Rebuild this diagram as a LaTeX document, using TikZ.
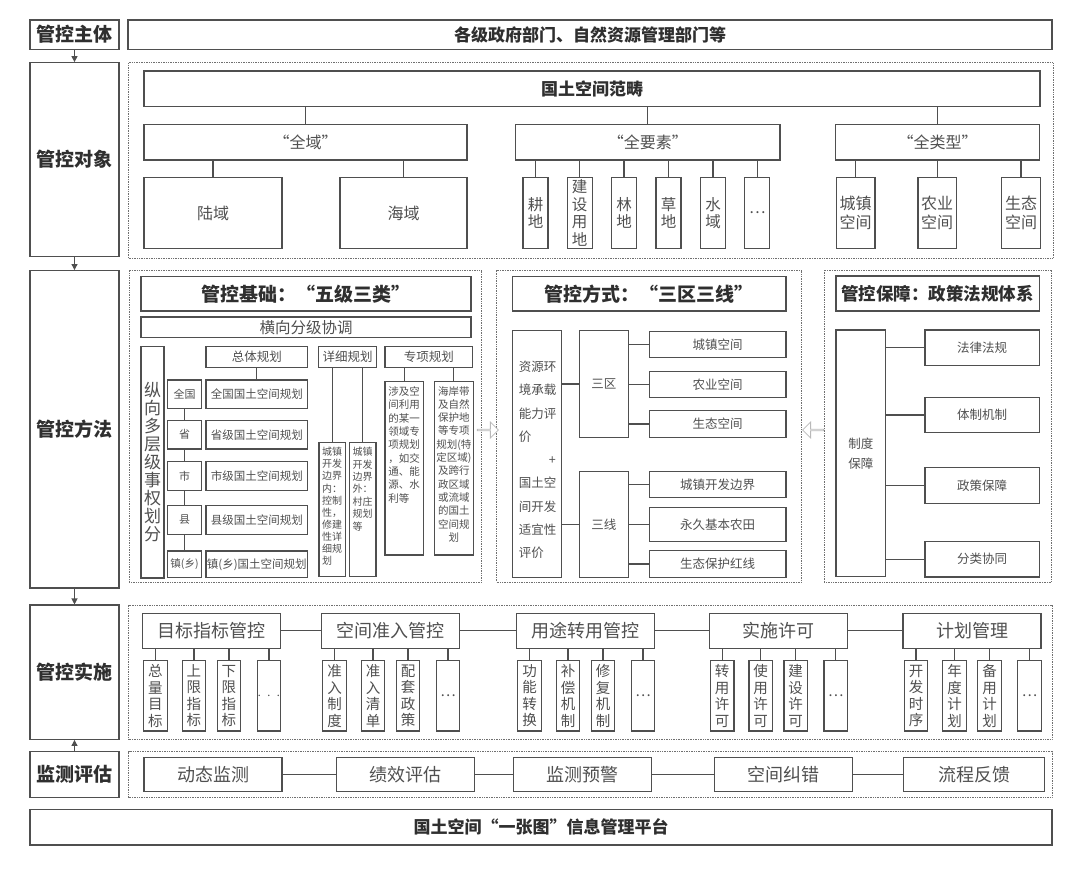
\documentclass[tikz,border=0pt]{standalone}
\usepackage{fontspec}
\setmainfont{Noto Sans CJK SC}
\usetikzlibrary{arrows.meta, shapes.arrows}

\definecolor{linec}{HTML}{4F4F4F}
\definecolor{headc}{HTML}{2F2F2F}
\definecolor{txtc}{HTML}{505050}
\definecolor{dotc}{HTML}{707070}
\newcommand{\fsz}[2]{\fontsize{#1}{#2}\selectfont}

\begin{document}
\begin{tikzpicture}[x=1pt, y=-1pt, >={Triangle[length=6pt, width=6pt]},
    box/.style={draw=linec, line width=1.2pt, fill=white, inner sep=0pt, text=txtc, align=center},
    sidebox/.style={box, minimum width=89, font=\fsz{19}{21}\bfseries, text=headc},
    titlebox/.style={box, font=\fsz{19}{21}\bfseries, text=headc},
    area/.style={draw=dotc, line width=0.9pt, dash pattern=on 0.9pt off 0.8pt, inner sep=0pt},
    link/.style={draw=linec, line width=1.2pt},
    elem/.style={box, minimum width=25, minimum height=70.6, font=\fsz{15.5}{17.5}},
    spc/.style={box, minimum width=38.5, minimum height=70.6, font=\fsz{16}{19}},
    level/.style={box, minimum width=34.4, minimum height=28.3, font=\fsz{11}{13}},
    plan/.style={box, minimum width=101.7, minimum height=28.3, font=\fsz{11.5}{13}},
    plantype/.style={box, minimum height=21, font=\fsz{12.5}{14}},
    smalltxt/.style={inner sep=0pt, text=txtc, anchor=north},
    item/.style={box, minimum width=136.7, font=\fsz{12.5}{14}},
    law/.style={box, minimum width=114.3, minimum height=35.5, font=\fsz{12.5}{14}},
    task/.style={box, minimum width=138, minimum height=35, font=\fsz{18}{20}},
    sub/.style={box, minimum width=23.5, minimum height=70.3, font=\fsz{14.5}{16.5}},
    stage/.style={box, minimum width=138, minimum height=34.3, font=\fsz{18}{20}},
    hollow/.style={single arrow, draw=gray!55, fill=white, line width=0.8pt, minimum height=21,
        minimum width=16, single arrow head extend=4pt, inner sep=0pt}
]
    \useasboundingbox (0,0) rectangle (1080,874);

    % ==========================================
    % 1. LEFT COLUMN
    % ==========================================
    \node[sidebox, minimum height=29.3] (zhuti) at (74.5,34.7) {管控主体};
    \node[box, minimum width=924, minimum height=29.3, font=\fsz{17}{19}\bfseries, text=headc]
        (zhutiR) at (590,34.7) {各级政府部门、自然资源管理部门等};
    \node[sidebox, minimum height=194] (duixiang) at (74.5,159.7) {管控对象};
    \node[sidebox, minimum height=317.3] (fangfa) at (74.5,429.3) {管控方法};
    \node[sidebox, minimum height=134.3] (shishi) at (74.5,672.2) {管控实施};
    \node[sidebox, minimum height=45.6] (jiance) at (74.5,774.5) {监测评估};
    \node[box, minimum width=1022, minimum height=35.7, font=\fsz{17}{19}\bfseries, text=headc]
        (pingtai) at (541,827.2) {国土空间“一张图”信息管理平台};

    \draw[link, ->] (zhuti) -- (duixiang);
    \draw[link, ->] (duixiang) -- (fangfa);
    \draw[link, ->] (fangfa) -- (shishi);
    \draw[link, ->] (jiance) -- (shishi);

    % ==========================================
    % 2. OBJECTS: territorial space
    % ==========================================
    \node[area, minimum width=924.4, minimum height=195.6] (area1) at (590.8,160.5) {};

    \node[box, minimum width=896, minimum height=35.7, font=\fsz{17}{19}\bfseries, text=headc]
        (fanchou) at (592,88.8) {国土空间范畴};
    \node[box, minimum width=323, minimum height=35.7, font=\fsz{16}{18}] (quanyu) at (305.5,142.2) {“全域”};
    \node[box, minimum width=264.5, minimum height=35.7, font=\fsz{16}{18}] (quanyaosu) at (647.8,142.2) {“全要素”};
    \node[box, minimum width=204, minimum height=35.7, font=\fsz{16}{18}] (quanleixing) at (937.5,142.2) {“全类型”};

    \node[box, minimum width=138, minimum height=70.6, font=\fsz{16}{18}] (luyu) at (213,213) {陆域};
    \node[box, minimum width=127, minimum height=70.6, font=\fsz{16}{18}] (haiyu) at (403.5,213) {海域};

    \node[elem] (gd) at (535.5,213) {耕\\地};
    \node[elem] (js) at (579.7,213) {建\\设\\用\\地};
    \node[elem] (ld) at (624,213) {林\\地};
    \node[elem] (cd) at (668.5,213) {草\\地};
    \node[elem] (sy) at (713,213) {水\\域};
    \node[elem] (el) at (757.3,213) {…};

    \node[spc] (spc1) at (855.7,213) {城镇\\空间};
    \node[spc] (spc2) at (937.2,213) {农业\\空间};
    \node[spc] (spc3) at (1021,213) {生态\\空间};

    \draw[link] (fanchou.south -| quanyu) -- (quanyu.north);
    \draw[link] (fanchou.south -| quanyaosu) -- (quanyaosu.north);
    \draw[link] (fanchou.south -| quanleixing) -- (quanleixing.north);
    \draw[link] (quanyu.south -| luyu) -- (luyu.north);
    \draw[link] (quanyu.south -| haiyu) -- (haiyu.north);
    \foreach \c in {gd, js, ld, cd, sy, el}
        \draw[link] (quanyaosu.south -| \c) -- (\c.north);
    \foreach \c in {spc1, spc2, spc3}
        \draw[link] (quanleixing.south -| \c) -- (\c.north);

    % ==========================================
    % 3. METHODS: basis "five levels, three types"
    % ==========================================
    \node[area, minimum width=352.4, minimum height=312] (area2) at (305.5,426) {};

    \node[titlebox, minimum width=330, minimum height=34.3] (jichu) at (306,293.8) {管控基础：“五级三类”};
    \node[box, minimum width=330, minimum height=20.7, font=\fsz{15.5}{17}] (hengxiang) at (306,327.3) {横向分级协调};
    \node[box, minimum width=23, minimum height=231.3, font=\fsz{17}{18}] (zongxiang) at (152.5,462.3)
        {纵\\向\\多\\层\\级\\事\\权\\划\\分};

    \node[plantype, minimum width=101.7] (zongti) at (256.8,357.2) {总体规划};
    \node[level] (lv1) at (184.5,394.2) {全国};
    \node[level] (lv2) at (184.5,434.8) {省};
    \node[level] (lv3) at (184.5,476) {市};
    \node[level] (lv4) at (184.5,520) {县};
    \node[level, minimum height=26.7, font=\fsz{10.5}{12}] (lv5) at (184.5,564.3) {镇(乡)};
    \node[plan] (pl1) at (256.8,394.2) {全国国土空间规划};
    \node[plan] (pl2) at (256.8,434.8) {省级国土空间规划};
    \node[plan] (pl3) at (256.8,476) {市级国土空间规划};
    \node[plan] (pl4) at (256.8,520) {县级国土空间规划};
    \node[plan, minimum height=26.7] (pl5) at (256.8,564.3) {镇(乡)国土空间规划};

    \draw[link] (zongti) -- (pl1);
    \draw[link] (lv1) -- (lv2) (lv2) -- (lv3) (lv3) -- (lv4) (lv4) -- (lv5);

    \node[plantype, minimum width=58.4] (xiangxi) at (347.5,357.2) {详细规划};
    \node[box, minimum width=26.3, minimum height=134] (xx1) at (332.2,509.7) {};
    \node[box, minimum width=26.7, minimum height=134] (xx2) at (362.7,509.7) {};
    \node[smalltxt, align=left, font=\fsz{10}{12.1}] (xx1t) at ([yshift=-5pt]xx1.north)
        {城镇\\开发\\边界\\内：\\控制\\性，\\修建\\性详\\细规\\划};
    \node[smalltxt, align=left, font=\fsz{10}{12.4}] (xx2t) at ([yshift=-5pt]xx2.north)
        {城镇\\开发\\边界\\外：\\村庄\\规划\\等};
    \draw[link] (xiangxi.south -| xx1) -- (xx1.north);
    \draw[link] (xiangxi.south -| xx2) -- (xx2.north);

    \node[plantype, minimum width=87.7] (zhuanxiang) at (428.8,357.2) {专项规划};
    \node[box, minimum width=38.3, minimum height=173.3] (zx1) at (404.2,468.3) {};
    \node[box, minimum width=39, minimum height=173.3] (zx2) at (453.8,468.3) {};
    \node[smalltxt, align=left, font=\fsz{10.5}{13.3}] (zx1t) at ([yshift=-5.5pt]zx1.north)
        {涉及空\\间利用\\的某一\\领域专\\项规划\\，如交\\通、能\\源、水\\利等};
    \node[smalltxt, align=center, font=\fsz{10.5}{13.3}] (zx2t) at ([yshift=-5pt]zx2.north)
        {海岸带\\及自然\\保护地\\等专项\\规划(特\\定区域)\\及跨行\\政区域\\或流域\\的国土\\空间规\\划};
    \draw[link] (zhuanxiang.south -| zx1) -- (zx1.north);
    \draw[link] (zhuanxiang.south -| zx2) -- (zx2.north);

    % ==========================================
    % 4. METHODS: "three zones, three lines"
    % ==========================================
    \node[area, minimum width=305, minimum height=312] (area3) at (649.2,426) {};

    \node[titlebox, minimum width=273.3, minimum height=34.3] (fangshi) at (649.3,293.8) {管控方式：“三区三线”};
    \node[box, minimum width=49, minimum height=246.6] (pingjia) at (537.2,454) {};
    \node[inner sep=0pt, text=txtc, align=left, font=\fsz{12.5}{23.3}] (pjtext) at (537.5,460)
        {资源环\\境承载\\能力评\\价\\\hspace*{30pt}+\\国土空\\间开发\\适宜性\\评价};

    \node[box, minimum width=49, minimum height=106.6, font=\fsz{12.5}{14}] (sanqu) at (603.8,384) {三区};
    \node[box, minimum width=49, minimum height=105.6, font=\fsz{12.5}{14}] (sanxian) at (603.8,524.5) {三线};

    \node[item, minimum height=26] (zone1) at (717.6,344.7) {城镇空间};
    \node[item, minimum height=26.4] (zone2) at (717.6,384.5) {农业空间};
    \node[item, minimum height=26.6] (zone3) at (717.6,424) {生态空间};
    \node[item, minimum height=26] (line1) at (717.6,484.7) {城镇开发边界};
    \node[item, minimum height=34] (line2) at (717.6,524.7) {永久基本农田};
    \node[item, minimum height=26.6] (line3) at (717.6,564) {生态保护红线};

    \draw[link] (sanqu.west -| pingjia.east) -- (sanqu.west);
    \draw[link] (sanxian.west -| pingjia.east) -- (sanxian.west);
    \foreach \c in {zone1, zone2, zone3}
        \draw[link] (\c.west -| sanqu.east) -- (\c.west);
    \foreach \c in {line1, line2, line3}
        \draw[link] (\c.west -| sanxian.east) -- (\c.west);

    % ==========================================
    % 5. METHODS: policy and regulation system
    % ==========================================
    \node[area, minimum width=227.4, minimum height=312] (area4) at (938,426) {};

    \node[titlebox, minimum width=203.3, minimum height=35, font=\fsz{17.5}{20}\bfseries] (baozhang) at (937.7,293.5)
        {管控保障：政策法规体系};
    \node[box, minimum width=49.7, minimum height=246.7, font=\fsz{12.5}{20}] (zhidu) at (860.8,453.3) {制度\\保障};
    \node[law] (law1) at (982.2,347.8) {法律法规};
    \node[law] (law2) at (982.2,415) {体制机制};
    \node[law] (law3) at (982.2,485.5) {政策保障};
    \node[law] (law4) at (982.2,559.2) {分类协同};
    \foreach \c in {law1, law2, law3, law4}
        \draw[link] (\c.west -| zhidu.east) -- (\c.west);

    % open arrows pointing to the middle block
    \node[hollow] (arrR) at (487.5,430) {};
    \node[hollow, shape border rotate=180] (arrL) at (813.5,430) {};

    % ==========================================
    % 6. IMPLEMENTATION
    % ==========================================
    \node[area, minimum width=923.4, minimum height=134.3] (area5) at (590.3,672.2) {};

    \node[task] (mb) at (211.4,630.8) {目标指标管控};
    \node[task] (zr) at (390.5,630.8) {空间准入管控};
    \node[task] (yt) at (585.5,630.8) {用途转用管控};
    \node[task] (xk) at (778.2,630.8) {实施许可};
    \node[task] (jh) at (972,630.8) {计划管理};
    \draw[link] (mb) -- (zr) (zr) -- (yt) (yt) -- (xk) (xk) -- (jh);

    \foreach \g/\ta/\tb/\tc/\td in {
        mb/{总\\量\\目\\标}/{上\\限\\指\\标}/{下\\限\\指\\标}/{\(\cdot\,\cdot\,\cdot\)},
        zr/{准\\入\\制\\度}/{准\\入\\清\\单}/{配\\套\\政\\策}/{…},
        yt/{功\\能\\转\\换}/{补\\偿\\机\\制}/{修\\复\\机\\制}/{…},
        xk/{转\\用\\许\\可}/{使\\用\\许\\可}/{建\\设\\许\\可}/{…},
        jh/{开\\发\\时\\序}/{年\\度\\计\\划}/{备\\用\\计\\划}/{…}}{
        \node[sub] (\g1) at ([shift={(-56,65)}]\g.center) {\ta};
        \node[sub] (\g2) at ([shift={(-17.5,65)}]\g.center) {\tb};
        \node[sub] (\g3) at ([shift={(17.5,65)}]\g.center) {\tc};
        \node[sub] (\g4) at ([shift={(57.5,65)}]\g.center) {\td};
        \foreach \k in {1,2,3,4}
            \draw[link] (\g.south -| \g\k) -- (\g\k.north);
    }

    % ==========================================
    % 7. MONITORING AND EVALUATION
    % ==========================================
    \node[area, minimum width=923.4, minimum height=45.6] (area6) at (590.3,774.5) {};

    \node[stage] (dtjc) at (213,774.5) {动态监测};
    \node[stage] (jxpg) at (405.2,774.5) {绩效评估};
    \node[stage] (jcyj) at (582.7,774.5) {监测预警};
    \node[stage] (kjjc) at (783.4,774.5) {空间纠错};
    \node[stage, minimum width=140.7] (lcfk) at (974.2,774.5) {流程反馈};
    \draw[link] (dtjc) -- (jxpg) (jxpg) -- (jcyj) (jcyj) -- (kjjc) (kjjc) -- (lcfk);

\end{tikzpicture}
\end{document}
